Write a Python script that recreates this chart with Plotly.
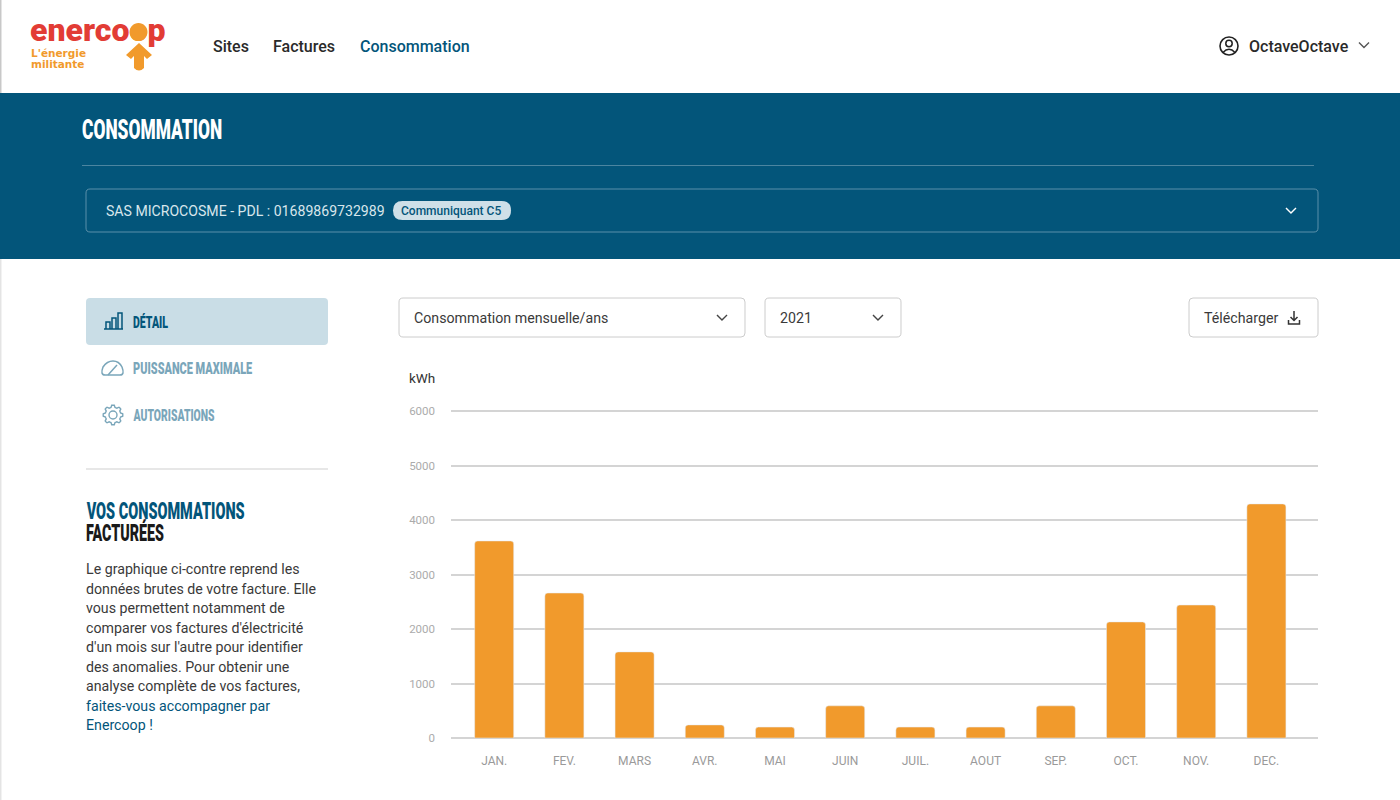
import json
import math
import plotly.graph_objects as go

# monthly consumption
months = ["JAN.", "FEV.", "MARS", "AVR.", "MAI", "JUIN", "JUIL.", "AOUT", "SEP.", "OCT.", "NOV.", "DEC."]
kwh = [3615, 2660, 1580, 240, 200, 590, 200, 200, 590, 2130, 2440, 4295]
y_ticks = [0, 1000, 2000, 3000, 4000, 5000, 6000]

W, H = 1400, 800
BLUE = "#03557A"
ORANGE = "#F19A2C"
LIGHT = "#7AA6BA"
BODY = "Roboto, sans-serif"

text_lines = [
    "Le graphique ci-contre reprend les",
    "données brutes de votre facture. Elle",
    "vous permettent notamment de",
    "comparer vos factures d'électricité",
    "d'un mois sur l'autre pour identifier",
    "des anomalies. Pour obtenir une",
    "analyse complète de vos factures,",
]
link_lines = ["faites-vous accompagner par", "Enercoop !"]

# no condensed font here, so the titles get squeezed to these widths after drawing
narrow_titles = {
    "CONSOMMATION": 140,
    "DÉTAIL": 35,
    "PUISSANCE MAXIMALE": 119,
    "AUTORISATIONS": 81,
    "VOS CONSOMMATIONS": 158,
    "FACTURÉES": 78,
}


def px(x):
    return x / W


def py(y):
    return 1 - y / H


def conv(path):
    # page pixels -> paper coordinates
    out, is_x = [], True
    for tok in path.split():
        if tok.isalpha():
            out.append(tok)
            is_x = True
        else:
            out.append(f"{px(float(tok)):.5f}" if is_x else f"{py(float(tok)):.5f}")
            is_x = not is_x
    return " ".join(out)


shapes = []
annotations = []


def draw(path, fill=None, line=None, width=1.0):
    shapes.append(dict(
        type="path", xref="paper", yref="paper", path=conv(path),
        fillcolor=fill or "rgba(0,0,0,0)",
        line=dict(color=line or "rgba(0,0,0,0)", width=width if line else 0),
    ))


def rrect(x0, y0, x1, y1, r=4, fill=None, line=None, width=1.0):
    draw(f"M {x0+r} {y0} L {x1-r} {y0} Q {x1} {y0} {x1} {y0+r} L {x1} {y1-r} Q {x1} {y1} {x1-r} {y1} "
         f"L {x0+r} {y1} Q {x0} {y1} {x0} {y1-r} L {x0} {y0+r} Q {x0} {y0} {x0+r} {y0} Z", fill, line, width)


def circle(cx, cy, r, fill=None, line=None, width=1.0):
    k = 0.5523 * r
    draw(f"M {cx-r} {cy} C {cx-r} {cy-k} {cx-k} {cy-r} {cx} {cy-r} C {cx+k} {cy-r} {cx+r} {cy-k} {cx+r} {cy} "
         f"C {cx+r} {cy+k} {cx+k} {cy+r} {cx} {cy+r} C {cx-k} {cy+r} {cx-r} {cy+k} {cx-r} {cy} Z", fill, line, width)


def chevron(cx, cy, color="#444444"):
    draw(f"M {cx-5} {cy-2.5} L {cx} {cy+2.5} L {cx+5} {cy-2.5}", None, color, 1.4)


def label(x, y, text, size=14, color="#3A3A3A", weight=400, family=BODY):
    annotations.append(dict(
        x=px(x), y=py(y), xref="paper", yref="paper", text=text, showarrow=False,
        xanchor="left", yanchor="middle", borderpad=0, borderwidth=0,
        font=dict(family=family, size=size, color=color, weight=weight),
    ))


# page background blocks
draw("M 0 0 L 1.5 0 L 1.5 93 L 0 93 Z", "#C8C8C8")
draw("M 0 259 L 1.5 259 L 1.5 800 L 0 800 Z", "#E4E4E4")
draw(f"M 0 93 L {W} 93 L {W} 259 L 0 259 Z", BLUE)
draw("M 82 165.5 L 1314 165.5", None, "#4C85A0", 1)
rrect(86, 189, 1318, 232, 4, None, "#5B90AA", 1)
rrect(393, 201, 511, 220, 9.5, "#CFE0E8")
chevron(1291, 210.5, "#FFFFFF")

# logo
label(30, 30, "enerco<span style='color:#F19A2C'>o</span>p", 32, "#E23C35", 900)
circle(138.5, 32, 9, "#F19A2C")
draw("M 139 43 L 152 55 L 147 59 L 144 56 L 144 68 Q 139 73 134 68 L 134 56 L 131 59 L 126 55 Z", "#F19A2C")
label(31, 52.5, "L'énergie", 10.5, "#F19A2C", 700, "'DejaVu Sans', sans-serif")
label(31, 64, "militante", 10.5, "#F19A2C", 700, "'DejaVu Sans', sans-serif")

# nav
label(213, 46, "Sites", 16, "#2A2A2A", 500)
label(273, 46, "Factures", 16, "#2A2A2A", 500)
label(360, 46, "Consommation", 16, BLUE, 500)
circle(1229, 46, 9, None, "#222222", 1.6)
circle(1229, 43.5, 3.2, None, "#222222", 1.5)
draw("M 1223 52.5 Q 1229 46 1235 52.5", None, "#222222", 1.5)
label(1249, 46, "OctaveOctave", 16, "#2A2A2A", 500)
chevron(1364, 45, "#555555")

# banner
label(82, 130, "CONSOMMATION", 28, "#FFFFFF", 900)
label(106, 210.5, "SAS MICROCOSME - PDL : 01689869732989", 14.1, "#D8E6EC")
label(401, 210.5, "Communiquant C5", 12, BLUE, 500)

# side menu
rrect(86, 298, 328, 345, 4, "#C9DDE6")
for d in ["M 104 329 L 123 329", "M 106 329 L 106 322 L 110 322 L 110 329",
          "M 112 329 L 112 318 L 116 318 L 116 329", "M 118 329 L 118 313 L 122 313 L 122 329"]:
    draw(d, None, BLUE, 1.5)
label(133, 321.5, "DÉTAIL", 17, BLUE, 900)

draw("M 105 375 Q 100 375 103 367 Q 107 361 113 361 Q 119 361 122 367 Q 125 375 120 375 Z", None, LIGHT, 1.5)
draw("M 108 375 L 117 365", None, LIGHT, 1.5)
label(133, 368, "PUISSANCE MAXIMALE", 17, LIGHT, 900)

# gear outline, eight teeth
gear = []
for i in range(48):
    a = 2 * math.pi * i / 48
    r = 9.8 if (i % 6) in (0, 1, 5) else 7.8
    gear.append((113 + r * math.cos(a), 415 + r * math.sin(a)))
draw("M " + " L ".join(f"{x:.2f} {y:.2f}" for x, y in gear) + " Z", None, LIGHT, 1.4)
circle(113, 415, 4, None, LIGHT, 1.4)
label(133, 415, "AUTORISATIONS", 17, LIGHT, 900)

draw("M 86 469 L 328 469", None, "#CFCFCF", 1.2)

label(86, 511, "VOS CONSOMMATIONS", 24, BLUE, 900)
label(86, 533, "FACTURÉES", 24, "#1A1A1A", 900)
for i, line in enumerate(text_lines):
    label(86, 569 + i * 19.5, line, 14.2)
for i, line in enumerate(link_lines):
    label(86, 705.5 + i * 19.5, line, 14.2, BLUE)

# controls above the chart
rrect(399, 298, 745, 337, 4, None, "#CCCCCC", 1)
label(414, 318, "Consommation mensuelle/ans", 14.2)
chevron(722, 317.5)
rrect(765, 298, 901, 337, 4, None, "#CCCCCC", 1)
label(780, 318, "2021", 14.2)
chevron(878, 317.5)
rrect(1189, 298, 1318, 337, 4, None, "#CCCCCC", 1)
label(1204, 318, "Télécharger", 14.2)
draw("M 1294 311 L 1294 320 M 1290.5 317 L 1294 320.5 L 1297.5 317", None, "#333333", 1.5)
draw("M 1288.5 320 L 1288.5 324 L 1299.5 324 L 1299.5 320", None, "#333333", 1.5)
label(409, 378, "kWh", 13.5, "#333333")

fig = go.Figure(go.Bar(x=months, y=kwh, marker_color=ORANGE, width=0.556, hoverinfo="x+y"))
fig.update_layout(
    width=W, height=H,
    margin=dict(l=0, r=0, t=0, b=0, autoexpand=False),
    paper_bgcolor="white", plot_bgcolor="white",
    barcornerradius=3,
    showlegend=False,
    shapes=shapes,
    annotations=annotations,
    xaxis=dict(
        domain=[px(451), px(1318)],
        type="category", categoryorder="array", categoryarray=months,
        range=[-0.615, 11.735],
        showgrid=False, showline=False, zeroline=False, ticks="",
        ticklabelstandoff=14,
        tickfont=dict(family=BODY, size=12, color="#9A9A9A"),
    ),
    yaxis=dict(
        # a bit above 6000 so plotly keeps the top gridline
        domain=[py(738), py(408)],
        range=[0, 6055], tickvals=y_ticks,
        showgrid=True, gridcolor="#D4D4D4", gridwidth=1.5,
        zeroline=True, zerolinecolor="#D4D4D4", zerolinewidth=1.5,
        showline=False, ticks="",
        ticklabelstandoff=15,
        tickfont=dict(family=BODY, size=11.5, color="#ABABAB"),
    ),
)

post_js = """
document.body.style.margin='0';document.body.style.overflow='hidden';
var widths = %s;
function squeeze() {
  document.querySelectorAll('.annotation-text').forEach(function (el) {
    var w = widths[el.textContent];
    if (!w) return;
    var b = el.getBBox();
    var s = w / el.getComputedTextLength();
    el.setAttribute('transform', 'translate(' + b.x + ' 0) scale(' + s + ' 1) translate(' + (-b.x) + ' 0)');
  });
}
var gd = document.getElementById('{plot_id}');
gd.on('plotly_afterplot', squeeze);
squeeze();
setTimeout(function () { window.dispatchEvent(new Event('resize')); squeeze(); }, 50);
""" % json.dumps(narrow_titles, ensure_ascii=False)

fig.write_html("out.html", config=dict(displayModeBar=False), post_script=post_js)
